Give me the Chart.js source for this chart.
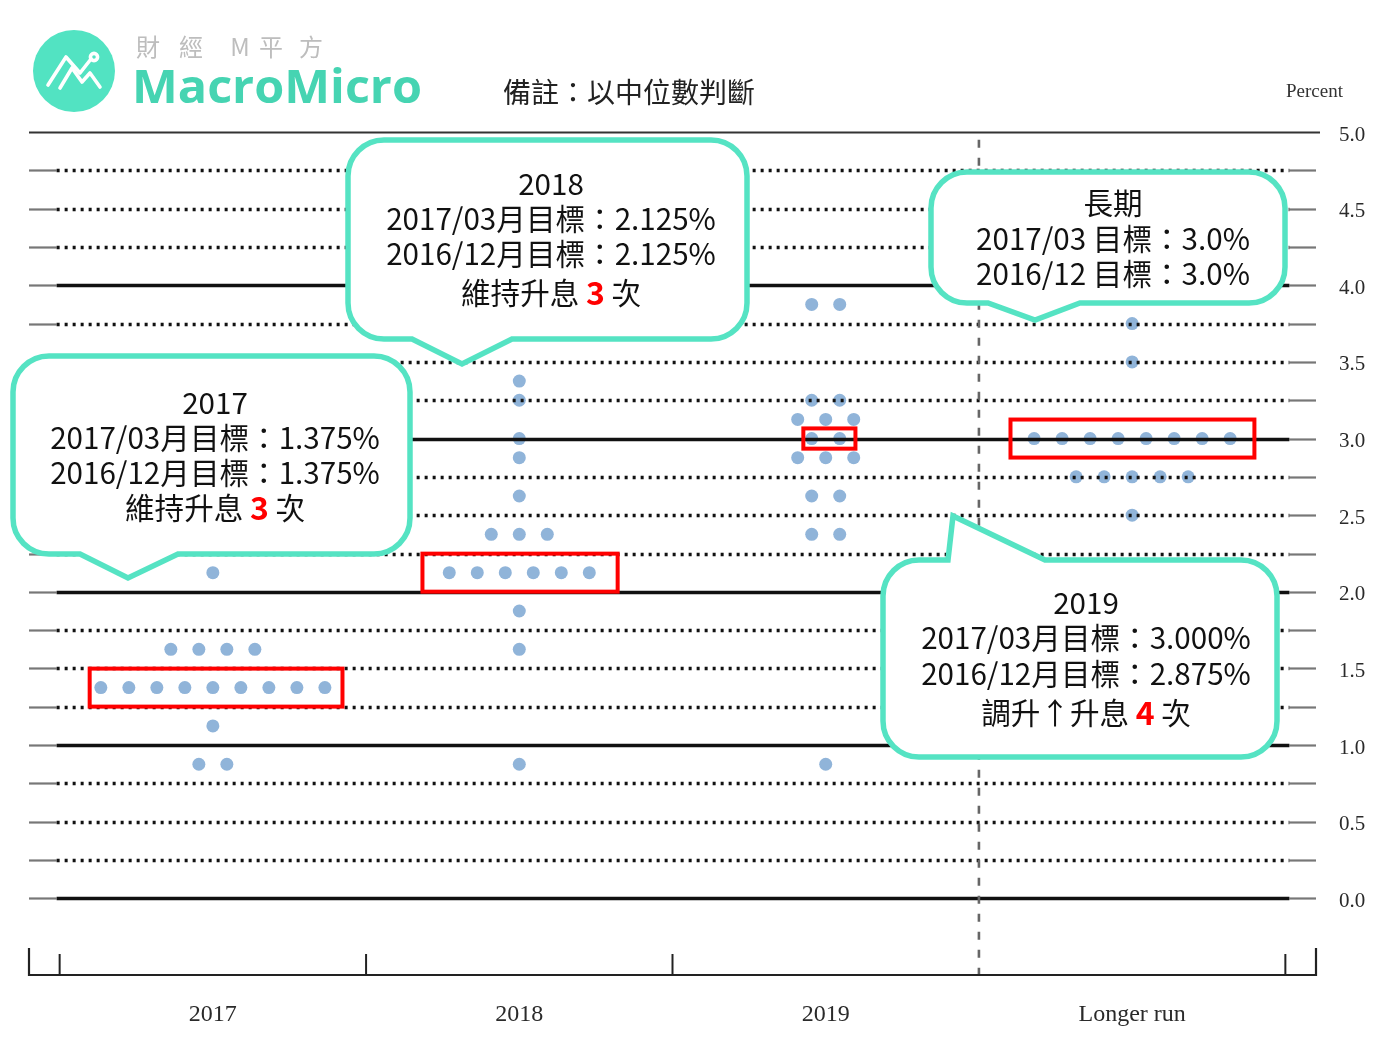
<!DOCTYPE html>
<html><head><meta charset="utf-8">
<script src="https://cdn.jsdelivr.net/npm/chart.js@4.4.1/dist/chart.umd.min.js"></script>
<style>html,body{margin:0;padding:0;background:#fff;overflow:hidden}#wrap{position:relative;width:1398px;height:1046px}</style>
</head><body><div id="wrap"><canvas id="c"></canvas></div>
<script>
// ---- data ----
const categories = ['2017', '2018', '2019', 'Longer run'];
const rates2017 = [2.125, 1.625, 1.375, 1.125, 0.875];
const counts2017 = [1, 4, 9, 1, 2];
const rates2018 = [3.375, 3.25, 3.0, 2.875, 2.625, 2.375, 2.125, 1.875, 1.625, 0.875];
const counts2018 = [1, 1, 1, 1, 1, 3, 6, 1, 1, 1];
const rates2019 = [3.875, 3.25, 3.125, 3.0, 2.875, 2.625, 2.375, 0.875];
const counts2019 = [2, 2, 3, 2, 3, 2, 2, 1];
const ratesLR = [3.75, 3.5, 3.0, 2.75, 2.5];
const countsLR = [1, 1, 8, 5, 1];
const medians = [1.375, 2.125, 3.0, 3.0];
const yTickLabels = ['0.0', '0.5', '1.0', '1.5', '2.0', '2.5', '3.0', '3.5', '4.0', '4.5', '5.0'];
const gridLevels = [0, 0.25, 0.5, 0.75, 1, 1.25, 1.5, 1.75, 2, 2.25, 2.5, 2.75, 3, 3.25, 3.5, 3.75, 4, 4.25, 4.5, 4.75, 5];

// ---- layout / style ----
const DOT_STEP = 0.0914;
const TEAL = '#55e3c3';
const highlightBoxes = [
  {cat: 0, x0: 0.098, x1: 0.923, h: 0.124},
  {cat: 1, x0: 1.184, x1: 1.821, h: 0.124},
  {cat: 2, x0: 2.427, x1: 2.597, h: 0.066},
  {cat: 3, x0: 3.103, x1: 3.899, h: 0.124}
];
const callouts = [
  {x: 13, y: 356, w: 397, h: 198, side: 'bottom', a: 80, tip: [128, 578], b: 178, cx: 215,
   lines: [[403, '2017'], [438, '2017/03月目標：1.375%'], [473, '2016/12月目標：1.375%'], [508, '維持升息 ', '3', ' 次']]},
  {x: 348, y: 140, w: 399, h: 199, side: 'bottom', a: 412, tip: [462, 364], b: 512, cx: 551,
   lines: [[184, '2018'], [219, '2017/03月目標：2.125%'], [254, '2016/12月目標：2.125%'], [293, '維持升息 ', '3', ' 次']]},
  {x: 931, y: 172, w: 354, h: 131, side: 'bottom', a: 988, tip: [1035, 320], b: 1080, cx: 1113,
   lines: [[203, '長期'], [239, '2017/03 目標：3.0%'], [274, '2016/12 目標：3.0%']]},
  {x: 883, y: 560, w: 394, h: 197, side: 'top', a: 948, tip: [953, 516], b: 1045, cx: 1086,
   lines: [[603, '2019'], [638, '2017/03月目標：3.000%'], [674, '2016/12月目標：2.875%'], [713, '調升↑升息 ', '4', ' 次']]}
];

function rowsToPoints(ci, rates, counts) {
  const pts = [];
  rates.forEach((r, k) => {
    const n = counts[k];
    for (let i = 0; i < n; i++) pts.push({x: ci + 0.5 + (i - (n - 1) / 2) * DOT_STEP, y: r});
  });
  return pts;
}
const allPoints = [].concat(
  rowsToPoints(0, rates2017, counts2017),
  rowsToPoints(1, rates2018, counts2018),
  rowsToPoints(2, rates2019, counts2019),
  rowsToPoints(3, ratesLR, countsLR)
);

const CJK = '"Noto Sans CJK TC", "Noto Sans CJK SC", sans-serif';

function line(ctx, x1, y1, x2, y2, w, color, dash) {
  ctx.save();
  ctx.beginPath();
  ctx.lineWidth = w; ctx.strokeStyle = color;
  ctx.setLineDash(dash || []);
  ctx.moveTo(x1, y1); ctx.lineTo(x2, y2); ctx.stroke();
  ctx.restore();
}

function calloutPath(ctx, c) {
  const r = 36, x = c.x, y = c.y, w = c.w, h = c.h;
  ctx.beginPath();
  ctx.moveTo(x + r, y);
  if (c.side === 'top') {
    ctx.lineTo(c.a, y); ctx.lineTo(c.tip[0], c.tip[1]); ctx.lineTo(c.b, y);
  }
  ctx.lineTo(x + w - r, y);
  ctx.arcTo(x + w, y, x + w, y + r, r);
  ctx.lineTo(x + w, y + h - r);
  ctx.arcTo(x + w, y + h, x + w - r, y + h, r);
  if (c.side === 'bottom') {
    ctx.lineTo(c.b, y + h); ctx.lineTo(c.tip[0], c.tip[1]); ctx.lineTo(c.a, y + h);
  }
  ctx.lineTo(x + r, y + h);
  ctx.arcTo(x, y + h, x, y + h - r, r);
  ctx.lineTo(x, y + r);
  ctx.arcTo(x, y, x + r, y, r);
  ctx.closePath();
}

const decor = {
  id: 'decor',
  beforeDraw(chart) {
    const ctx = chart.ctx;
    ctx.save(); ctx.fillStyle = '#fff'; ctx.fillRect(0, 0, chart.width, chart.height); ctx.restore();
  },
  afterDatasetsDraw(chart) {
    const ctx = chart.ctx, xs = chart.scales.x, ys = chart.scales.y;
    const L = xs.getPixelForValue(-0.1), X0 = xs.getPixelForValue(0), X4 = xs.getPixelForValue(4), R = xs.getPixelForValue(4.1);
    gridLevels.forEach(v => {
      const py = Math.round(ys.getPixelForValue(v)) + 0.5;
      if (v === 5) {
        line(ctx, L, py, R + 4, py, 2.2, '#333');
      } else if (Number.isInteger(v)) {
        line(ctx, L, py, X0 - 3, py, 2.2, '#777');
        line(ctx, X4 + 4, py, R, py, 2.2, '#777');
        line(ctx, X0 - 3, py, X4 + 4, py, 3.4, '#111');
      } else {
        line(ctx, L, py, X0 - 3, py, 2.2, '#777');
        line(ctx, X4 + 4, py, R, py, 2.2, '#777');
        line(ctx, X0 - 3, py, X4 + 4, py, 3.6, '#111', [3, 5]);
      }
    });
    // vertical dashed separator
    const vx = xs.getPixelForValue(3);
    line(ctx, vx, ys.getPixelForValue(4.95), vx, ys.bottom, 2.6, '#666', [8, 10]);
    // bottom axis
    const by = ys.bottom;
    line(ctx, L - 1, by, R + 1, by, 2.2, '#222');
    [-0.1, 4.1].forEach(v => { const px = xs.getPixelForValue(v); line(ctx, px, by - 27, px, by + 1, 2.2, '#222'); });
    [0, 1, 2, 4].forEach(v => { const px = xs.getPixelForValue(v); line(ctx, px, by - 21, px, by + 1, 2, '#222'); });
  },
  afterDraw(chart) {
    const ctx = chart.ctx, xs = chart.scales.x, ys = chart.scales.y;
    // red highlight boxes around medians
    highlightBoxes.forEach(b => {
      const m = medians[b.cat];
      const x0 = xs.getPixelForValue(b.x0), x1 = xs.getPixelForValue(b.x1);
      const y0 = ys.getPixelForValue(m + b.h), y1 = ys.getPixelForValue(m - b.h);
      ctx.save(); ctx.lineWidth = 4; ctx.strokeStyle = '#ff0000';
      ctx.strokeRect(x0, y0, x1 - x0, y1 - y0); ctx.restore();
    });
    // callouts
    callouts.forEach(c => {
      ctx.save();
      calloutPath(ctx, c);
      ctx.fillStyle = '#fff'; ctx.fill();
      ctx.lineWidth = 5.5; ctx.strokeStyle = TEAL; ctx.lineJoin = 'miter'; ctx.stroke();
      ctx.textBaseline = 'middle';
      c.lines.forEach(ln => {
        const y = ln[0];
        if (ln.length === 2) {
          ctx.font = '29.6px ' + CJK; ctx.fillStyle = '#111'; ctx.textAlign = 'center';
          ctx.fillText(ln[1], c.cx, y);
        } else {
          const f1 = '29.6px ' + CJK, f2 = 'bold 32px ' + CJK;
          ctx.font = f1; const w1 = ctx.measureText(ln[1]).width, w3 = ctx.measureText(ln[3]).width;
          ctx.font = f2; const w2 = ctx.measureText(ln[2]).width;
          let x = c.cx - (w1 + w2 + w3) / 2;
          ctx.textAlign = 'left';
          ctx.font = f1; ctx.fillStyle = '#111'; ctx.fillText(ln[1], x, y); x += w1;
          ctx.font = f2; ctx.fillStyle = '#ff0000'; ctx.fillText(ln[2], x, y); x += w2;
          ctx.font = f1; ctx.fillStyle = '#111'; ctx.fillText(ln[3], x, y);
        }
      });
      ctx.restore();
    });
    // logo
    ctx.save();
    ctx.fillStyle = '#52e3c2';
    ctx.beginPath(); ctx.arc(74, 71, 41, 0, Math.PI * 2); ctx.fill();
    ctx.strokeStyle = '#fff'; ctx.lineWidth = 3.6; ctx.lineCap = 'round'; ctx.lineJoin = 'round';
    ctx.beginPath(); ctx.moveTo(48, 85); ctx.lineTo(66, 57); ctx.lineTo(80, 73); ctx.lineTo(91, 59); ctx.stroke();
    ctx.beginPath(); ctx.moveTo(60, 88); ctx.lineTo(72, 68); ctx.lineTo(82, 82); ctx.lineTo(90, 73); ctx.lineTo(100, 87); ctx.stroke();
    ctx.beginPath(); ctx.arc(94, 57, 3.6, 0, Math.PI * 2); ctx.stroke();
    ctx.fillStyle = '#bdbdbd'; ctx.font = '24px ' + CJK; ctx.textAlign = 'center'; ctx.textBaseline = 'middle';
    const sub = ['財', '經', 'M', '平', '方'], subX = [148, 191, 240, 271, 311];
    sub.forEach((s, i) => ctx.fillText(s, subX[i], 47));
    ctx.font = 'bold 46px "Open Sans", sans-serif';
    const mw = ctx.measureText('MacroMicro').width;
    ctx.fillStyle = '#46d4b2'; ctx.textAlign = 'left'; ctx.textBaseline = 'alphabetic';
    ctx.translate(132, 103); ctx.scale(290 / mw, 1);
    ctx.fillText('MacroMicro', 0, 0);
    ctx.restore();
    // notes
    ctx.save();
    ctx.fillStyle = '#222'; ctx.font = '28px ' + CJK; ctx.textBaseline = 'middle'; ctx.textAlign = 'left';
    ctx.fillText('備註：以中位數判斷', 503, 92);
    ctx.fillStyle = '#333'; ctx.font = '19px "Liberation Serif", serif';
    ctx.fillText('Percent', 1286, 92);
    ctx.restore();
  }
};

function make() {
  new Chart(document.getElementById('c'), {
    type: 'scatter',
    data: {datasets: [{data: allPoints, pointRadius: 6.5, pointHoverRadius: 6.5, backgroundColor: '#90b4d9', borderWidth: 0}]},
    options: {
      responsive: true, maintainAspectRatio: false, animation: false,
      layout: {padding: {left: 29, top: 132, right: 0, bottom: 0}},
      plugins: {legend: {display: false}, tooltip: {enabled: false}},
      scales: {
        x: {
          type: 'linear', min: -0.1, max: 4.1,
          grid: {display: false}, border: {display: false},
          afterBuildTicks(s) { s.ticks = categories.map((_, i) => ({value: i + 0.5})); },
          afterFit(s) { s.height = 71; },
          ticks: {autoSkip: false, maxRotation: 0, padding: 17, color: '#2a2a2a',
            font: {family: '"Liberation Serif", serif', size: 24},
            callback: (v, i) => categories[i]}
        },
        y: {
          type: 'linear', position: 'right', min: -0.5, max: 5,
          grid: {display: false}, border: {display: false},
          afterBuildTicks(s) { s.ticks = yTickLabels.map(t => ({value: parseFloat(t)})); },
          afterFit(s) { s.width = 82; },
          ticks: {padding: 15, labelOffset: 3, color: '#2a2a2a', font: {family: '"Liberation Serif", serif', size: 21},
            callback: (v, i) => yTickLabels[i]}
        }
      }
    },
    plugins: [decor]
  });
}
Promise.all([
  document.fonts.load('29px "Noto Sans CJK TC"', '月目標'),
  document.fonts.load('21px "Liberation Serif"'),
  document.fonts.load('bold 46px "Open Sans"')
]).then(make, make);
</script></body></html>
